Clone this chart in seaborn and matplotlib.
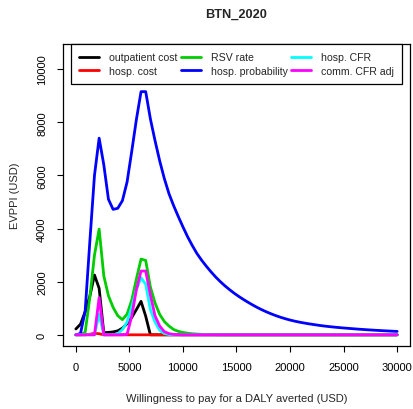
import matplotlib
matplotlib.use("Agg")
import matplotlib.pyplot as plt
import seaborn as sns
import pandas as pd

sns.set_style("white")
plt.rcParams['font.family'] = ['Liberation Sans', 'DejaVu Sans']

wtp = [0, 435, 870, 1304, 1739, 2174, 2609, 3043, 3478, 3913,
       4348, 4783, 5217, 5652, 6087, 6522, 6957, 7391, 7826, 8261,
       8696, 9130, 9565, 10000, 10435, 10870, 11304, 11739, 12174, 12609,
       13043, 13478, 13913, 14348, 14783, 15217, 15652, 16087, 16522, 16957,
       17391, 17826, 18261, 18696, 19130, 19565, 20000, 20435, 20870, 21304,
       21739, 22174, 22609, 23043, 23478, 23913, 24348, 24783, 25217, 25652,
       26087, 26522, 26957, 27391, 27826, 28261, 28696, 29130, 29565, 30000]

outpatient_cost = [220, 400, 870, 1450, 2250, 1750, 80, 90, 110, 150,
                   250, 420, 650, 950, 1260, 700, 0, 0, 0, 0,
                   0, 0, 0, 0, 0, 0, 0, 0, 0, 0,
                   0, 0, 0, 0, 0, 0, 0, 0, 0, 0,
                   0, 0, 0, 0, 0, 0, 0, 0, 0, 0,
                   0, 0, 0, 0, 0, 0, 0, 0, 0, 0,
                   0, 0, 0, 0, 0, 0, 0, 0, 0, 0]

hosp_cost = [0, 0, 0, 20, 60, 40, 0, 0, 0, 0,
             0, 0, 0, 0, 0, 0, 0, 0, 0, 0,
             0, 0, 0, 0, 0, 0, 0, 0, 0, 0,
             0, 0, 0, 0, 0, 0, 0, 0, 0, 0,
             0, 0, 0, 0, 0, 0, 0, 0, 0, 0,
             0, 0, 0, 0, 0, 0, 0, 0, 0, 0,
             0, 0, 0, 0, 0, 0, 0, 0, 0, 0]

rsv_rate = [0, 0, 100, 1400, 3000, 3980, 2220, 1470, 1030, 720,
            570, 780, 1300, 2100, 2850, 2800, 1800, 1200, 770, 500,
            330, 200, 130, 90, 60, 40, 28, 18, 12, 8,
            5, 3, 0, 0, 0, 0, 0, 0, 0, 0,
            0, 0, 0, 0, 0, 0, 0, 0, 0, 0,
            0, 0, 0, 0, 0, 0, 0, 0, 0, 0,
            0, 0, 0, 0, 0, 0, 0, 0, 0, 0]

hosp_probability = [0, 50, 900, 3500, 6000, 7400, 6400, 5100, 4720, 4760,
                    5050, 5750, 6900, 8100, 9150, 9150, 8130, 7310, 6550, 5880,
                    5310, 4860, 4450, 4060, 3690, 3360, 3060, 2810, 2585, 2375,
                    2180, 2005, 1845, 1700, 1565, 1443, 1329, 1222, 1120, 1025,
                    938, 858, 785, 718, 658, 604, 556, 514, 477, 445,
                    415, 388, 362, 338, 317, 298, 281, 265, 250, 236,
                    222, 209, 197, 185, 174, 164, 154, 145, 136, 128]

hosp_cfr = [0, 0, 0, 0, 0, 780, 0, 0, 0, 40,
            200, 480, 1050, 1700, 2150, 1900, 950, 480, 170, 50,
            10, 0, 0, 0, 0, 0, 0, 0, 0, 0,
            0, 0, 0, 0, 0, 0, 0, 0, 0, 0,
            0, 0, 0, 0, 0, 0, 0, 0, 0, 0,
            0, 0, 0, 0, 0, 0, 0, 0, 0, 0,
            0, 0, 0, 0, 0, 0, 0, 0, 0, 0]

comm_cfr_adj = [0, 0, 0, 0, 0, 1400, 0, 0, 0, 0,
                0, 20, 700, 1700, 2400, 2400, 1500, 720, 330, 120,
                45, 15, 5, 0, 0, 0, 0, 0, 0, 0,
                0, 0, 0, 0, 0, 0, 0, 0, 0, 0,
                0, 0, 0, 0, 0, 0, 0, 0, 0, 0,
                0, 0, 0, 0, 0, 0, 0, 0, 0, 0,
                0, 0, 0, 0, 0, 0, 0, 0, 0, 0]

series_names = ["outpatient cost", "hosp. cost", "RSV rate",
                "hosp. probability", "hosp. CFR", "comm. CFR adj"]
series_values = [outpatient_cost, hosp_cost, rsv_rate,
                 hosp_probability, hosp_cfr, comm_cfr_adj]
series_colors = ["#000000", "#FF0000", "#00CD00", "#0000FF", "#00FFFF", "#FF00FF"]

x_ticks = [0, 5000, 10000, 15000, 20000, 25000, 30000]
y_ticks = [0, 2000, 4000, 6000, 8000, 10000]

W, H = 414, 410
fig = plt.figure(figsize=(W / 100, H / 100), dpi=100)
L, R, T, B = 63, 410, 45, 347
ax = fig.add_axes([L / W, 1 - B / H, (R - L) / W, (B - T) / H])

for name, vals, col in zip(series_names, series_values, series_colors):
    df = pd.DataFrame({"wtp": wtp, "evppi": vals})
    sns.lineplot(data=df, x="wtp", y="evppi", color=col, linewidth=2,
                 label=name, ax=ax, legend=False)

ax.set_xlim(-1200, 31200)
ax.set_ylim(-421, 10943)
ax.set_xticks(x_ticks)
ax.set_xticklabels([str(v) for v in x_ticks])
ax.set_yticks(y_ticks)
ax.set_yticklabels([str(v) for v in y_ticks], rotation=90, va='center')

for s in ax.spines.values():
    s.set_visible(True)
    s.set_color("black")
    s.set_linewidth(0.9)

ax.tick_params(axis='both', direction='out', length=4.5, width=0.8,
               colors='black', labelsize=8, pad=7,
               bottom=True, left=True)

ax.set_xlabel("Willingness to pay for a DALY averted (USD)", fontsize=8, va='center')
ax.xaxis.set_label_coords(0.5, (B - 399) / (B - T))
ax.set_ylabel("EVPPI (USD)", fontsize=8, va='center')
ax.yaxis.set_label_coords((15 - L) / (R - L), 0.5)

ax.set_title("BTN_2020", fontsize=9.2, fontweight='bold', va='center',
             y=1 + (T - 15) / (B - T), pad=0)

handles, labels = ax.get_legend_handles_labels()
leg = ax.legend(handles, labels, loc='upper center', ncol=3, fontsize=7.6,
                frameon=True, fancybox=False, shadow=False, framealpha=1,
                edgecolor='black', borderaxespad=0, borderpad=0.8,
                handlelength=1.9, handletextpad=0.9, columnspacing=0.35,
                labelspacing=0.3)
leg.get_frame().set_linewidth(0.9)

fig.savefig("out.png", dpi=100)
